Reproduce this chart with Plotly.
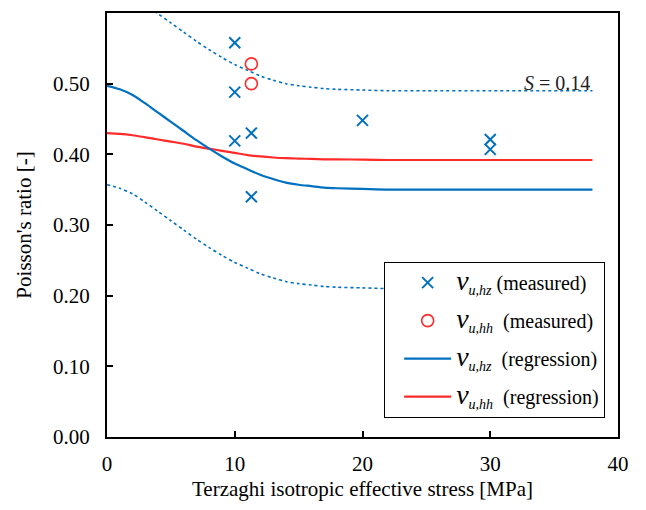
import plotly.graph_objects as go

# Measured data
hz_x = [10, 10, 10, 11.3, 11.3, 20, 30, 30]
hz_y = [0.558, 0.488, 0.419, 0.430, 0.340, 0.448, 0.421, 0.407]
hh_x = [11.3, 11.3]
hh_y = [0.528, 0.500]

# Regression curves
reg_x = [0, 1, 2, 3, 4, 5, 6, 7, 8, 9, 10, 11, 12, 13, 14, 15, 16, 17, 18, 20, 22, 25, 30, 38]
reg_hz = [0.497, 0.492, 0.484, 0.472, 0.459, 0.446, 0.433, 0.420, 0.408, 0.397, 0.387, 0.379, 0.371,
          0.365, 0.360, 0.357, 0.355, 0.353, 0.352, 0.351, 0.350, 0.350, 0.350, 0.350]
reg_hh = [0.430, 0.429, 0.427, 0.424, 0.421, 0.418, 0.415, 0.411, 0.408, 0.405, 0.402, 0.399, 0.397,
          0.3955, 0.3945, 0.394, 0.3935, 0.393, 0.3928, 0.3925, 0.392, 0.392, 0.392, 0.392]
band_up = [0.637, 0.632, 0.624, 0.612, 0.599, 0.586, 0.573, 0.560, 0.548, 0.537, 0.527, 0.519, 0.511,
           0.505, 0.500, 0.497, 0.495, 0.493, 0.492, 0.491, 0.490, 0.490, 0.490, 0.490]
band_lo = [0.357, 0.352, 0.344, 0.332, 0.319, 0.306, 0.293, 0.280, 0.268, 0.257, 0.247, 0.239, 0.231,
           0.225, 0.220, 0.217, 0.215, 0.213, 0.212, 0.211, 0.210, 0.210, 0.210, 0.210]

x_ticks = [0, 10, 20, 30, 40]
y_ticks = [0.0, 0.1, 0.2, 0.3, 0.4, 0.5, 0.6]

BLUE = "#0070C0"
RED = "#FF2A2A"
FONT = "Liberation Serif"

def lab(sub, tail):
    return ('<span style="font-size:28px"><i>v</i></span><sub><i>' + sub + '</i></sub>' + tail)

fig = go.Figure()

curve_line = dict(shape="spline", smoothing=0.8)

fig.add_trace(go.Scatter(x=reg_x, y=band_up, mode="lines", line=dict(color=BLUE, width=1.6, dash="dot", **curve_line),
                         showlegend=False, hoverinfo="skip"))
fig.add_trace(go.Scatter(x=reg_x, y=band_lo, mode="lines", line=dict(color=BLUE, width=1.6, dash="dot", **curve_line),
                         showlegend=False, hoverinfo="skip"))
fig.add_trace(go.Scatter(x=reg_x, y=reg_hh, mode="lines", line=dict(color=RED, width=2.2, **curve_line),
                         name=lab("u,hh", "&nbsp;&nbsp;(regression)"), legendrank=4, legendgroup="d"))
fig.add_trace(go.Scatter(x=reg_x, y=reg_hz, mode="lines", line=dict(color=BLUE, width=2.2, **curve_line),
                         name=lab("u,hz", "&nbsp;&nbsp;(regression)"), legendrank=3, legendgroup="c"))
fig.add_trace(go.Scatter(x=hz_x, y=hz_y, mode="markers",
                         marker=dict(symbol="x-thin-open", size=11, color=BLUE, line=dict(color=BLUE, width=2)),
                         name=lab("u,hz", " (measured)"), legendrank=1, legendgroup="a"))
fig.add_trace(go.Scatter(x=hh_x, y=hh_y, mode="markers",
                         marker=dict(symbol="circle-open", size=12, color=RED, line=dict(color=RED, width=1.6)),
                         name=lab("u,hh", "&nbsp;&nbsp;(measured)"), legendrank=2, legendgroup="b"))

fig.add_annotation(x=38, y=0.501, xref="x", yref="y", text="<i>S</i> = 0.14", showarrow=False,
                   xanchor="right", yanchor="middle", font=dict(family=FONT, size=20, color="#222"))

axis_common = dict(showline=True, linecolor="black", linewidth=2, mirror=True, ticks="inside",
                   ticklen=6, tickwidth=1.5, tickcolor="black", showgrid=False, zeroline=False,
                   automargin=False, tickfont=dict(family=FONT, size=21, color="black"))

fig.update_xaxes(range=[0, 40], tickvals=x_ticks, ticktext=[str(v) for v in x_ticks], ticklabelstandoff=7,
                 title=dict(text="Terzaghi isotropic effective stress [MPa]", font=dict(family=FONT, size=21, color="black"), standoff=6),
                 **axis_common)
fig.update_yaxes(range=[0, 0.6], tickvals=y_ticks, ticktext=["%.2f" % v for v in y_ticks], ticklabelstandoff=11,
                 title=dict(text="Poisson's ratio [-]", font=dict(family=FONT, size=21, color="black"), standoff=16),
                 **axis_common)

fig.update_layout(
    width=630, height=494,
    margin=dict(l=99, r=20, t=5, b=65),
    plot_bgcolor="white", paper_bgcolor="white",
    font=dict(family=FONT, size=20, color="black"),
    legend=dict(x=0.542, y=0.413, xanchor="left", yanchor="top", bgcolor="white",
                bordercolor="black", borderwidth=1.2, traceorder="grouped", tracegroupgap=9,
                indentation=14, itemwidth=47,
                font=dict(family=FONT, size=20, color="black")),
)

fig.write_html("out.html")
